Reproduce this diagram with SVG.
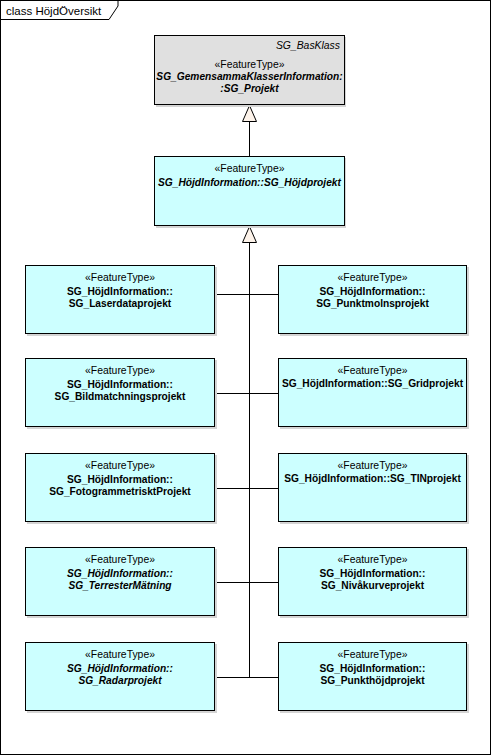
<svg xmlns="http://www.w3.org/2000/svg" width="492" height="756" viewBox="0 0 492 756">
<style>
.frame{fill:#ffffff;stroke:#000;stroke-width:1}
.box{stroke:#000;stroke-width:1}
.cls{fill:#ccffff}
.base{fill:#e0e0e0}
.shadow{fill:#d4d4d4}
.st{font-family:"Liberation Sans",Arial,sans-serif;font-size:10.4px;fill:#000;text-anchor:middle}
.nm{font-family:"Liberation Sans",Arial,sans-serif;font-size:10.2px;font-weight:bold;fill:#000;text-anchor:middle}
.it{font-style:italic}
.conn{stroke:#000;stroke-width:1;fill:none}
.tri{fill:#fdf3ea;stroke:#000;stroke-width:1}
</style>
<rect class="frame" x="0.5" y="0.5" width="490" height="754"/>
<path class="conn" d="M0.5,19.5 H109 L118,6 V0.5"/>
<text x="6" y="15" style="font-family:'Liberation Sans',Arial,sans-serif;font-size:11.5px">class HöjdÖversikt</text>

<g id="connectors">
<line class="conn" x1="249.5" y1="121" x2="249.5" y2="156"/>
<polygon class="tri" points="249.5,105.5 242.5,121.5 256.5,121.5"/>
<line class="conn" x1="249.5" y1="242" x2="249.5" y2="677.5"/>
<polygon class="tri" points="249.5,226.5 242.5,242.5 256.5,242.5"/>
<line class="conn" x1="215" y1="294.5" x2="278" y2="294.5"/>
<line class="conn" x1="215" y1="393.5" x2="278" y2="393.5"/>
<line class="conn" x1="215" y1="488.5" x2="278" y2="488.5"/>
<line class="conn" x1="215" y1="582.5" x2="278" y2="582.5"/>
<line class="conn" x1="215" y1="677.5" x2="278" y2="677.5"/>
</g>

<g id="SG_Projekt">
<rect class="shadow" x="156" y="37" width="190" height="70"/>
<rect class="box base" x="154.5" y="35.5" width="190" height="69"/>
<text x="340" y="49" style="font-family:'Liberation Sans',Arial,sans-serif;font-size:10.4px;font-style:italic;text-anchor:end">SG_BasKlass</text>
<text class="st" x="249.5" y="68">«FeatureType»</text>
<text class="nm it" x="249.5" y="80">SG_GemensammaKlasserInformation:</text>
<text class="nm it" x="249.5" y="92">:SG_Projekt</text>
</g>

<g id="SG_Hojdprojekt">
<rect class="shadow" x="156" y="158" width="190" height="70"/>
<rect class="box cls" x="154.5" y="156.5" width="190" height="69"/>
<text class="st" x="249.5" y="172">«FeatureType»</text>
<text class="nm it" x="249.5" y="186">SG_HöjdInformation::SG_Höjdprojekt</text>
</g>

<g id="SG_Laserdataprojekt">
<rect class="shadow" x="27" y="267" width="190" height="69"/>
<rect class="box cls" x="25.5" y="265.5" width="189" height="68"/>
<text class="st" x="120" y="281">«FeatureType»</text>
<text class="nm" x="120" y="295">SG_HöjdInformation::</text>
<text class="nm" x="120" y="307">SG_Laserdataprojekt</text>
</g>

<g id="SG_Punktmolnsprojekt">
<rect class="shadow" x="280" y="267" width="189" height="69"/>
<rect class="box cls" x="278.5" y="265.5" width="188" height="68"/>
<text class="st" x="372.5" y="281">«FeatureType»</text>
<text class="nm" x="372.5" y="295">SG_HöjdInformation::</text>
<text class="nm" x="372.5" y="307">SG_Punktmolnsprojekt</text>
</g>

<g id="SG_Bildmatchningsprojekt">
<rect class="shadow" x="27" y="360" width="190" height="69"/>
<rect class="box cls" x="25.5" y="358.5" width="189" height="68"/>
<text class="st" x="120" y="374">«FeatureType»</text>
<text class="nm" x="120" y="388">SG_HöjdInformation::</text>
<text class="nm" x="120" y="400">SG_Bildmatchningsprojekt</text>
</g>

<g id="SG_Gridprojekt">
<rect class="shadow" x="280" y="360" width="189" height="69"/>
<rect class="box cls" x="278.5" y="358.5" width="188" height="68"/>
<text class="st" x="372.5" y="374">«FeatureType»</text>
<text class="nm" x="372.5" y="387">SG_HöjdInformation::SG_Gridprojekt</text>
</g>

<g id="SG_FotogrammetrisktProjekt">
<rect class="shadow" x="27" y="455" width="190" height="69"/>
<rect class="box cls" x="25.5" y="453.5" width="189" height="68"/>
<text class="st" x="120" y="469">«FeatureType»</text>
<text class="nm" x="120" y="483">SG_HöjdInformation::</text>
<text class="nm" x="120" y="495">SG_FotogrammetrisktProjekt</text>
</g>

<g id="SG_TINprojekt">
<rect class="shadow" x="280" y="455" width="189" height="69"/>
<rect class="box cls" x="278.5" y="453.5" width="188" height="68"/>
<text class="st" x="372.5" y="469">«FeatureType»</text>
<text class="nm" x="372.5" y="482">SG_HöjdInformation::SG_TINprojekt</text>
</g>

<g id="SG_TerresterMatning">
<rect class="shadow" x="27" y="549" width="190" height="69"/>
<rect class="box cls" x="25.5" y="547.5" width="189" height="68"/>
<text class="st" x="120" y="563">«FeatureType»</text>
<text class="nm it" x="120" y="577">SG_HöjdInformation::</text>
<text class="nm it" x="120" y="589">SG_TerresterMätning</text>
</g>

<g id="SG_Nivakurveprojekt">
<rect class="shadow" x="280" y="549" width="189" height="69"/>
<rect class="box cls" x="278.5" y="547.5" width="188" height="68"/>
<text class="st" x="372.5" y="563">«FeatureType»</text>
<text class="nm" x="372.5" y="577">SG_HöjdInformation::</text>
<text class="nm" x="372.5" y="589">SG_Nivåkurveprojekt</text>
</g>

<g id="SG_Radarprojekt">
<rect class="shadow" x="27" y="644" width="190" height="69"/>
<rect class="box cls" x="25.5" y="642.5" width="189" height="68"/>
<text class="st" x="120" y="658">«FeatureType»</text>
<text class="nm it" x="120" y="672">SG_HöjdInformation::</text>
<text class="nm it" x="120" y="684">SG_Radarprojekt</text>
</g>

<g id="SG_Punkthojdprojekt">
<rect class="shadow" x="280" y="644" width="189" height="69"/>
<rect class="box cls" x="278.5" y="642.5" width="188" height="68"/>
<text class="st" x="372.5" y="658">«FeatureType»</text>
<text class="nm" x="372.5" y="672">SG_HöjdInformation::</text>
<text class="nm" x="372.5" y="684">SG_Punkthöjdprojekt</text>
</g>
</svg>
